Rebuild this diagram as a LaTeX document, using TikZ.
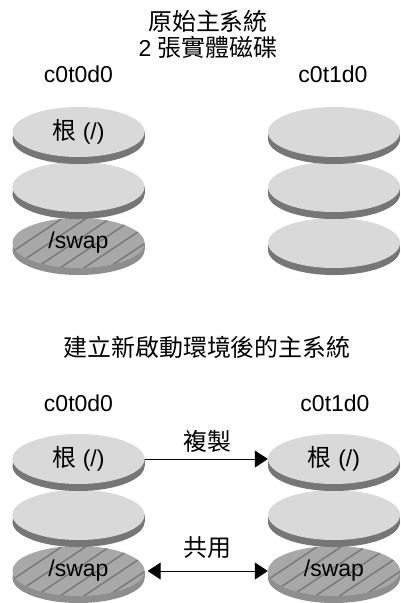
\documentclass[tikz,border=0pt]{standalone}
\usepackage{fontspec}
\setmainfont{Liberation Sans}
\newfontfamily\cjk[Scale=1.04]{Noto Sans CJK TC}
\usetikzlibrary{arrows.meta,shapes.geometric}
\definecolor{facegray}{HTML}{D9D9D9}
\definecolor{rimgray}{HTML}{767676}
\definecolor{swapgray}{HTML}{A8A8A8}
\definecolor{swaprimgray}{HTML}{8E8E8E}
\definecolor{hatchgray}{HTML}{7C7C7C}
\tikzset{
  lbl/.style={anchor=base, inner sep=0pt, font=\fontsize{23}{27}\selectfont},
  face/.style={ellipse, minimum width=132pt, minimum height=50pt, inner sep=0pt,
    fill=facegray, font=\fontsize{23}{27}\selectfont},
  swapface/.style={face, fill=swapgray, path picture={
    \foreach \d in {-176,-152,...,176}
      \draw[hatchgray, line width=1.6pt, shift={(path picture bounding box.center)}]
        ({\d-45},30) -- ++(90,-60);
  }},
  arr/.style={line width=1pt, black, >={Triangle[length=13pt, width=17pt]}}
}
\newcommand\diskrim[3]{%
  \fill[#3] ({#1-66},#2) rectangle ({#1+66},{#2+7});
  \fill[#3] (#1,{#2+7}) ellipse[x radius=66, y radius=25];
}
\begin{document}
\begin{tikzpicture}[x=1pt, y=-1pt]
\path[use as bounding box, fill=white] (0,0) rectangle (401,603);

% titles
\node[lbl] (t1) at (208,30) {\cjk 原始主系統};
\node[lbl] (t2) at (208,56.5) {2 {\cjk 張實體磁碟}};
\node[lbl] (h1) at (78.5,82.5) {c0t0d0};
\node[lbl] (h2) at (333,82.5) {c0t1d0};

% top left column
\diskrim{78.5}{243}{swaprimgray}
\node[swapface] (L3) at (78.5,243) {/swap};
\diskrim{78.5}{187}{rimgray}
\node[face] (L2) at (78.5,187) {};
\diskrim{78.5}{132}{rimgray}
\node[face] (L1) at (78.5,132) {{\cjk 根} (/)};

% top right column
\diskrim{334}{243}{rimgray}
\node[face] (R3) at (334,243) {};
\diskrim{334}{187}{rimgray}
\node[face] (R2) at (334,187) {};
\diskrim{334}{132}{rimgray}
\node[face] (R1) at (334,132) {};

% bottom section
\node[lbl] (t3) at (207,356) {\cjk 建立新啟動環境後的主系統};
\node[lbl] (h3) at (78.5,411) {c0t0d0};
\node[lbl] (h4) at (335,411) {c0t1d0};

\diskrim{78.5}{571}{swaprimgray}
\node[swapface] (BL3) at (78.5,571) {/swap};
\diskrim{78.5}{515}{rimgray}
\node[face] (BL2) at (78.5,515) {};
\diskrim{78.5}{459}{rimgray}
\node[face] (BL1) at (78.5,459) {{\cjk 根} (/)};

\diskrim{334}{571}{swaprimgray}
\node[swapface] (BR3) at (334,571) {/swap};
\diskrim{334}{515}{rimgray}
\node[face] (BR2) at (334,515) {};
\diskrim{334}{459}{rimgray}
\node[face] (BR1) at (334,459) {{\cjk 根} (/)};

% connectors
\draw[arr, ->] (BL1.east) -- (BR1.west);
\node[lbl] (c1) at (207.5,450) {\cjk 複製};
\draw[arr, <->, shorten <=3pt] (BL3.east) -- (BR3.west);
\node[lbl] (c2) at (207.5,556) {\cjk 共用};
\end{tikzpicture}
\end{document}
